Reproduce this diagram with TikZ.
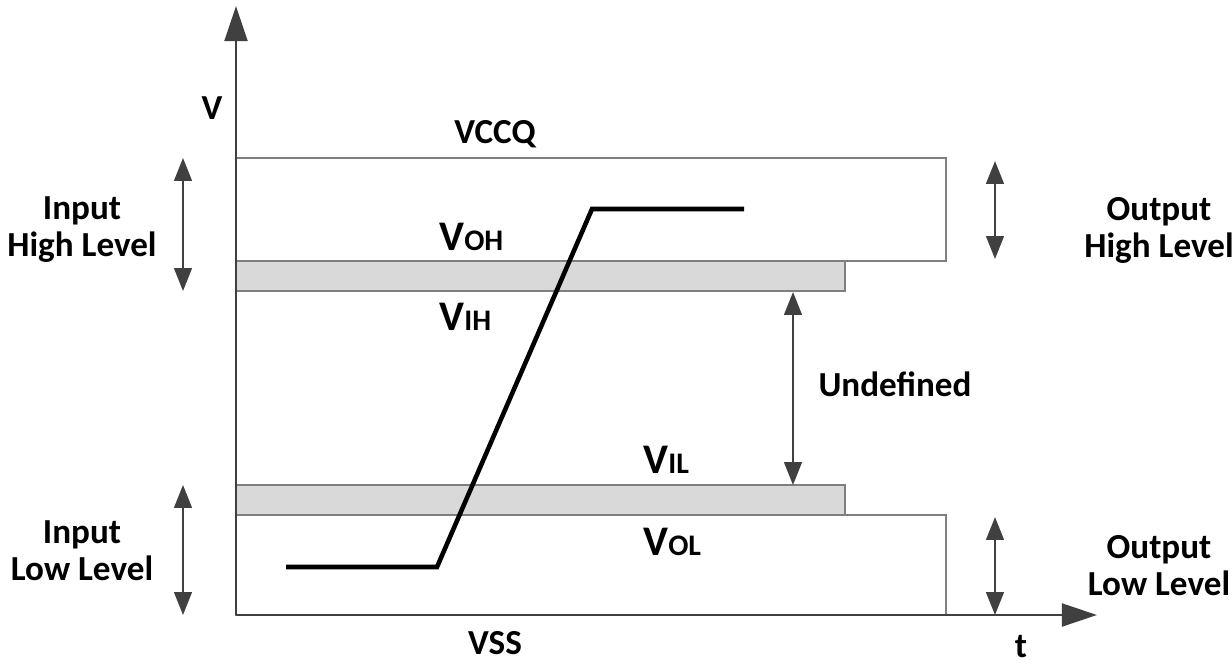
\documentclass[tikz,border=0pt]{standalone}
\usepackage{fontspec}
\setmainfont{Carlito}
\usetikzlibrary{arrows.meta}
\definecolor{axisc}{HTML}{404040}
\definecolor{boxc}{HTML}{7F7F7F}
\definecolor{bandc}{HTML}{D9D9D9}
\tikzset{
  axisline/.style={draw=axisc, line width=1.6pt, -{Triangle[length=20pt,width=13pt]}},
  dblarrow/.style={draw=axisc, line width=1.3pt, {Triangle[length=13pt,width=10pt]}-{Triangle[length=13pt,width=10pt]}},
  boxline/.style={draw=boxc, line width=0.8pt},
  lbl/.style={font=\fontsize{20}{21}\selectfont\bfseries, align=center, inner sep=0pt},
  vlbl/.style={font=\fontsize{24}{26}\selectfont\bfseries, inner sep=0pt, anchor=base west},
  signal/.style={draw=black, line width=2.6pt, line join=miter},
}
\newcommand{\subl}[1]{{\fontsize{17}{18}\selectfont #1}}
\begin{document}
\begin{tikzpicture}[x=0.02cm, y=-0.02cm]
\useasboundingbox (0,0) rectangle (1232,664);
% boxes
\draw[boxline] (236,158) rectangle (946,261);
\draw[boxline, fill=bandc] (236,261) rectangle (845,291);
\draw[boxline, fill=bandc] (236,485) rectangle (845,515);
\draw[boxline] (236,515) rectangle (946,615);
% axes
\coordinate (o) at (236,615);
\coordinate (vtip) at (236,6);
\coordinate (ttip) at (1097,615);
\draw[axisline] (o) -- (vtip);
\draw[axisline] (o) -- (ttip);
% signal
\coordinate (s1) at (286,567);
\coordinate (s2) at (437,567);
\coordinate (s3) at (592,209);
\coordinate (s4) at (744,209);
\draw[signal] (s1) -- (s2) -- (s3) -- (s4);
% double arrows
\coordinate (ih1) at (183,158); \coordinate (ih2) at (183,291);
\coordinate (il1) at (183,485); \coordinate (il2) at (183,615);
\coordinate (oh1) at (995,161); \coordinate (oh2) at (995,259);
\coordinate (ol1) at (995,517); \coordinate (ol2) at (995,615);
\coordinate (u1) at (793,292); \coordinate (u2) at (793,485);
\draw[dblarrow] (ih1) -- (ih2);
\draw[dblarrow] (il1) -- (il2);
\draw[dblarrow] (oh1) -- (oh2);
\draw[dblarrow] (ol1) -- (ol2);
\draw[dblarrow] (u1) -- (u2);
% labels
\node[lbl] (lv) at (212,108) {V};
\node[lbl, anchor=base] (lt) at (1021,657) {t};
\node[lbl] (lvccq) at (495,134) {VCCQ};
\node[lbl] (lvss) at (495,643) {VSS};
\node[lbl] (lundef) at (895,384) {Undefined};
\node[lbl] (linh) at (82,230) {Input\\High Level};
\node[lbl] (linl) at (82,551) {Input\\Low Level};
\node[lbl] (louth) at (1159,230) {Output\\High Level};
\node[lbl] (loutl) at (1159,566) {Output\\Low Level};
\node[vlbl] (lvoh) at (439,250) {V\subl{OH}};
\node[vlbl] (lvih) at (439,330) {V\subl{IH}};
\node[vlbl] (lvil) at (643,473) {V\subl{IL}};
\node[vlbl] (lvol) at (643,555) {V\subl{OL}};
\end{tikzpicture}
\end{document}
